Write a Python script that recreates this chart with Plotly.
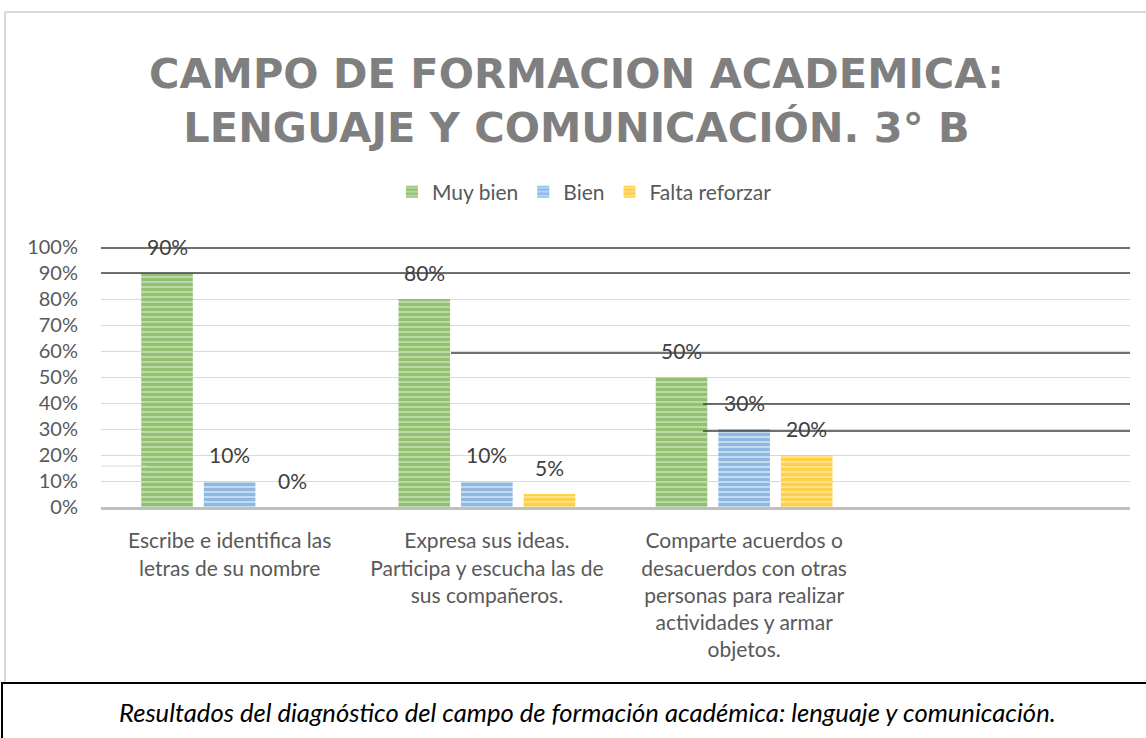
import plotly.graph_objects as go

categories = [
    "Escribe e identifica las<br>letras de su nombre",
    "Expresa sus ideas.<br>Participa y escucha las de<br>sus compañeros.",
    "Comparte acuerdos o<br>desacuerdos con otras<br>personas para realizar<br>actividades y armar<br>objetos.",
    " ",
]
muy_bien = [0.90, 0.80, 0.50, None]
bien = [0.10, 0.10, 0.30, None]
falta_reforzar = [0.00, 0.05, 0.20, None]
y_ticks = [0, 0.1, 0.2, 0.3, 0.4, 0.5, 0.6, 0.7, 0.8, 0.9, 1.0]

W, H = 1146, 738
ML, MR, MT, MB = 101, 16, 247, 231
PW, PH = W - ML - MR, H - MT - MB
BARGAP = 0.27


def px_x(p):
    return (p - ML) / PW


def px_y(p):
    return (H - MB - p) / PH


FONT = "Lato"
series = [
    ("Muy bien", muy_bien, "#68a83f", "#bcdaa6"),
    ("Bien", bien, "#5696d2", "#c3dbf1"),
    ("Falta reforzar", falta_reforzar, "#ffbc00", "#ffe28a"),
]

fig = go.Figure()
annotations = []
slot = PW / len(categories) * (1 - BARGAP) / len(series)
for i, (name, vals, fg, bg) in enumerate(series):
    fig.add_trace(go.Bar(
        name=name, x=categories, y=vals,
        marker=dict(color=bg, line=dict(width=0),
                    pattern=dict(shape="-", fgcolor=fg, bgcolor=bg, size=5, solidity=0.6)),
    ))
    for c, v in zip(categories, vals):
        if v is None:
            continue
        annotations.append(dict(
            x=c, y=v, xref="x", yref="y", text=f"{v:.0%}", showarrow=False,
            xshift=(i - 1) * slot, yshift=27, yanchor="middle", xanchor="center",
            font=dict(family=FONT, size=21, color="#404040")))

shapes = []
# outer chart border (light gray)
shapes.append(dict(type="line", xref="paper", yref="paper", x0=px_x(5), x1=px_x(1150),
                   y0=px_y(12), y1=px_y(12), line=dict(color="#d9d9d9", width=2)))
shapes.append(dict(type="line", xref="paper", yref="paper", x0=px_x(5), x1=px_x(5),
                   y0=px_y(12), y1=px_y(683), line=dict(color="#d9d9d9", width=2)))
# caption box
shapes.append(dict(type="rect", xref="paper", yref="paper", x0=px_x(2), x1=px_x(1152),
                   y0=px_y(745), y1=px_y(683), line=dict(color="#000000", width=2),
                   fillcolor="white"))
# overlaid black rules
rules = [(101, 248), (101, 273), (451, 353), (703, 404), (703, 431)]
for x0, y0 in rules:
    shapes.append(dict(type="line", xref="paper", yref="paper", x0=px_x(x0), x1=px_x(1130),
                       y0=px_y(y0), y1=px_y(y0), line=dict(color="#404040", width=1.5),
                       layer="above"))
shapes.append(dict(type="line", xref="paper", yref="paper", x0=px_x(101), x1=px_x(147),
                   y0=px_y(466), y1=px_y(466), line=dict(color="#d9d9d9", width=1)))

annotations.append(dict(
    text="<i>Resultados del diagnóstico del campo de formación académica: lenguaje y comunicación.</i>",
    xref="paper", yref="paper", x=px_x(117), y=px_y(712),
    xanchor="left", yanchor="middle", showarrow=False,
    font=dict(family=FONT, size=25.6, color="#000000")))

fig.update_layout(
    width=W, height=H,
    margin=dict(l=ML, r=MR, t=MT, b=MB),
    paper_bgcolor="white", plot_bgcolor="white",
    barmode="group", bargap=BARGAP, bargroupgap=0.176,
    title=dict(text="CAMPO DE FORMACION ACADEMICA:<br>LENGUAJE Y COMUNICACIÓN. 3° B",
               xref="container", yref="container", x=0.503, y=1 - 88 / H,
               xanchor="center", yanchor="middle",
               font=dict(family="DejaVu Sans", size=41.5, color="#7f7f7f", weight="bold")),
    legend=dict(orientation="h", xref="container", yref="container", x=0.51, y=1 - 192 / H,
                xanchor="center", yanchor="middle", itemsizing="constant",
                font=dict(family=FONT, size=21, color="#595959"), traceorder="normal"),
    showlegend=True,
    shapes=shapes,
    annotations=annotations,
)
fig.update_yaxes(range=[0, 1], tickvals=y_ticks, tickformat=".0%",
                 showgrid=True, gridcolor="#d9d9d9", gridwidth=1,
                 zeroline=False, showline=False, ticks="",
                 tickfont=dict(family=FONT, size=20, color="#595959"),
                 ticklabelstandoff=22)
fig.update_xaxes(showline=True, linecolor="#bfbfbf", linewidth=3, ticks="",
                 tickfont=dict(family=FONT, size=21, color="#595959"),
                 tickangle=0, ticklabelstandoff=13)

fig.write_html("out.html")
